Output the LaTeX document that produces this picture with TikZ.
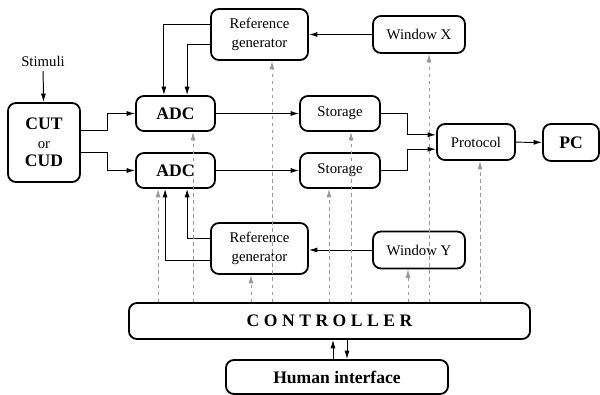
\documentclass[tikz,border=0pt]{standalone}
\usepackage{fontspec}
\setmainfont{Liberation Serif}
\usetikzlibrary{arrows.meta,positioning,calc}

\newcommand{\bigb}{\fontsize{12.5}{12.5}\selectfont\bfseries}

\begin{document}
\begin{tikzpicture}[x=0.025cm,y=-0.025cm,
        >={Latex[length=6pt,width=3.6pt]},
        blk/.style={draw,line width=1.3pt,rounded corners=0.2cm,fill=white,align=center,inner sep=0pt,
            font=\fontsize{10.5}{13}\selectfont},
        heavy/.style={font=\bigb},
        sig/.style={->,line width=0.7pt},
        ctl/.style={->,black!40,line width=0.7pt,dash pattern=on 2.5pt off 2.5pt}]
        \useasboundingbox (0,0) rectangle (600,395);

        % Device under test
        \node[font=\fontsize{10.5}{13}\selectfont] (stim) at (43,61) {Stimuli};
        \node[blk,minimum width=1.8cm,minimum height=1.975cm] (cut) at (44,142.5)
            {{\bigb CUT}\\{\fontsize{10.5}{12}\selectfont or}\\{\bigb CUD}};

        % Acquisition
        \node[blk,heavy,minimum width=1.975cm,minimum height=0.875cm] (adc1) at (175.5,113.5) {ADC};
        \node[blk,heavy,minimum width=1.975cm,minimum height=0.875cm] (adc2) at (175.5,170.5) {ADC};
        \node[blk,minimum width=2.425cm,minimum height=1.275cm] (refa) at (259.5,34.5) {Reference\\generator};
        \node[blk,minimum width=2.425cm,minimum height=1.275cm] (refb) at (259.5,248.5) {Reference\\generator};
        \node[blk,minimum width=2.3cm,minimum height=0.925cm] (winx) at (419,34.5) {Window X};
        \node[blk,minimum width=2.3cm,minimum height=0.925cm] (winy) at (419,250) {Window Y};

        % Storage and output
        \node[blk,minimum width=2cm,minimum height=0.875cm] (st1) at (340,113.5) {Storage};
        \node[blk,minimum width=2cm,minimum height=0.875cm] (st2) at (340,170.5) {Storage};
        \node[blk,minimum width=1.95cm,minimum height=0.9cm] (proto) at (476,142) {Protocol};
        \node[blk,heavy,minimum width=1.4cm,minimum height=0.925cm] (pc) at (571,142.5) {PC};

        % Control
        \node[blk,heavy,minimum width=10.025cm,minimum height=0.9cm] (ctrl) at (329.5,321)
            {C\hspace{3.2pt}O\hspace{3.2pt}N\hspace{3.2pt}T\hspace{3.2pt}R\hspace{3.2pt}O\hspace{3.2pt}L\hspace{3.2pt}L\hspace{3.2pt}E\hspace{3.2pt}R};
        \node[blk,heavy,minimum width=5.55cm,minimum height=0.85cm] (hmi) at (337,377) {Human interface};

        % Signal path
        \draw[sig] (stim) -- (cut);
        \draw[sig] ([yshift=0.29cm]cut.east) -- ++(27,0) |- (adc1);
        \draw[sig] ([yshift=-0.26cm]cut.east) -- ++(27,0) |- (adc2);
        \draw[sig] ([yshift=0.26cm]refa.west) -| ([xshift=-0.29cm]adc1.north);
        \draw[sig] ([yshift=-0.26cm]refa.west) -| ([xshift=0.29cm]adc1.north);
        \draw[sig] ([yshift=0.24cm]refb.west) -| ([xshift=0.29cm]adc2.south);
        \draw[sig] ([yshift=-0.29cm]refb.west) -| ([xshift=-0.26cm]adc2.south);
        \draw[sig] (winx) -- (refa);
        \draw[sig] (winy.west) -- (winy.west -| refb.east);
        \draw[sig] (adc1) -- (st1);
        \draw[sig] (adc2) -- (st2);
        \draw[sig] (st1.east) -- ++(27,0) |- ([yshift=0.18cm]proto.west);
        \draw[sig] (st2.east) -- ++(27,0) |- ([yshift=-0.18cm]proto.west);
        \draw[sig] (proto) -- (pc);

        % Controller links
        \draw[sig] ($(hmi.north)+(-4,0)$) -- ($(hmi.north |- ctrl.south)+(-4,0)$);
        \draw[sig] ($(hmi.north |- ctrl.south)+(10,0)$) -- ($(hmi.north)+(10,0)$);
        \foreach \x/\t in {158/adc2,193/adc1,251/refb,272/refa,329/st2,351/st1,408/winy,429/winx,480/proto}
            \draw[ctl] (ctrl.north -| \x,0) -- (\t.south -| \x,0);
    \end{tikzpicture}
\end{document}
